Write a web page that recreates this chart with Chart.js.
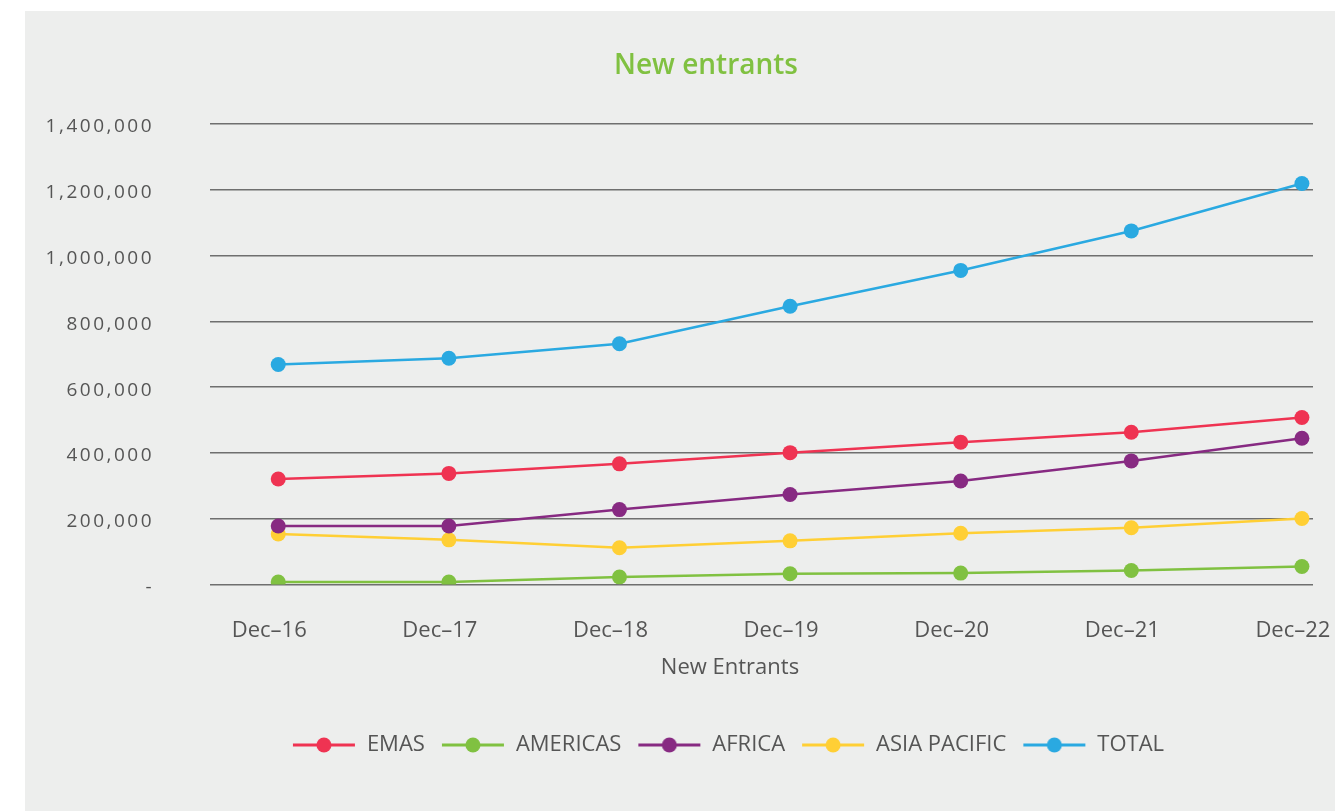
<!DOCTYPE html>
<html>
<head>
<meta charset="utf-8">
<script src="https://cdn.jsdelivr.net/npm/chart.js@4.4.1/dist/chart.umd.min.js"></script>
<style>
  html, body { margin: 0; padding: 0; background: #fff; }
  canvas { display: block; }
</style>
</head>
<body>
<canvas id="newEntrantsChart" width="1335" height="811"></canvas>
<script>
// data
const categories = ['Dec–16', 'Dec–17', 'Dec–18', 'Dec–19', 'Dec–20', 'Dec–21', 'Dec–22'];
const emas = [321000, 338000, 367000, 401000, 433000, 463000, 508000];
const americas = [8000, 8000, 23000, 33000, 35000, 43000, 55000];
const africa = [178000, 178000, 228000, 274000, 315000, 376000, 445000];
const asiaPacific = [154000, 136000, 112000, 133000, 156000, 173000, 201000];
const total = [669000, 688000, 732000, 846000, 955000, 1075000, 1219000];
const yTicks = [0, 200000, 400000, 600000, 800000, 1000000, 1200000, 1400000];

const textGrey = '#555555';

// legend marker: a short line with a dot in the middle
function legendIcon(color) {
    const c = document.createElement('canvas');
    c.width = 64;
    c.height = 18;
    const ctx = c.getContext('2d');
    ctx.strokeStyle = color;
    ctx.lineWidth = 3;
    ctx.beginPath();
    ctx.moveTo(1, 9);
    ctx.lineTo(63, 9);
    ctx.stroke();
    ctx.fillStyle = color;
    ctx.beginPath();
    ctx.arc(32, 9, 7.5, 0, Math.PI * 2);
    ctx.fill();
    return c;
}

function series(label, values, color) {
    return {
        label: label,
        data: values.map((v, i) => ({ x: i, y: v })),
        borderColor: color,
        backgroundColor: color,
        borderWidth: 2.5,
        pointRadius: 7.5,
        pointHoverRadius: 7.5,
        pointBorderWidth: 0,
        pointStyle: 'circle',
        tension: 0,
        icon: legendIcon(color)
    };
}

// grey panel behind the chart, plus a few nudges the options can't do
const panel = {
    id: 'panel',
    beforeDraw(chart) {
        const ctx = chart.ctx;
        ctx.save();
        ctx.fillStyle = '#ffffff';
        ctx.fillRect(0, 0, chart.width, chart.height);
        ctx.fillStyle = '#edeeed';
        ctx.fillRect(25, 11, chart.width - 25, chart.height - 11);
        ctx.restore();
    },
    afterLayout(chart) {
        // title / legend / axis caption are not centred on the canvas in the original
        chart.boxes.forEach((box) => {
            let dx = 0;
            if (box === chart.legend) dx = 59;
            else if (box === chart.titleBlock) dx = 37;
            else if (box.options && box.options.text === 'New Entrants') dx = 61;
            box.left += dx;
            box.right += dx;
        });
        // wider tracking on the y tick labels
        const y = chart.scales.y;
        if (!y._spaced) {
            const drawLabels = y.drawLabels.bind(y);
            y.drawLabels = function (area) {
                chart.ctx.save();
                chart.ctx.letterSpacing = '2.5px';
                drawLabels(area);
                chart.ctx.restore();
            };
            y._spaced = true;
        }
    }
};

const chartArea = document.getElementById('newEntrantsChart').getContext('2d');
const myChart = new Chart(chartArea, {
    type: 'line',
    data: {
        datasets: [
            series('EMAS', emas, '#ef3352'),
            series('AMERICAS', americas, '#80c141'),
            series('AFRICA', africa, '#872a82'),
            series('ASIA PACIFIC', asiaPacific, '#ffcf35'),
            series('TOTAL', total, '#2aa9e1')
        ]
    },
    options: {
        responsive: false,
        animation: false,
        devicePixelRatio: 1,
        layout: { padding: { left: 25, right: 22, top: 0, bottom: 45 } },
        plugins: {
            tooltip: { enabled: false },
            title: {
                display: true,
                text: 'New entrants',
                color: '#80c141',
                font: { family: 'Open Sans', size: 28, weight: '600' },
                padding: { top: 49, bottom: 41.4 }
            },
            subtitle: {
                display: true,
                position: 'bottom',
                weight: 500,
                text: 'New Entrants',
                color: textGrey,
                font: { family: 'Open Sans', size: 22 },
                padding: { top: 10, bottom: 37 }
            },
            legend: {
                position: 'bottom',
                weight: 1000,
                labels: {
                    usePointStyle: true,
                    pointStyleWidth: 64,
                    boxHeight: 18,
                    padding: 16,
                    color: textGrey,
                    font: { family: 'Open Sans', size: 22 },
                    generateLabels(chart) {
                        return chart.data.datasets.map((ds, i) => ({
                            text: ds.label,
                            pointStyle: ds.icon,
                            fillStyle: ds.borderColor,
                            strokeStyle: ds.borderColor,
                            lineWidth: 0,
                            fontColor: textGrey,
                            hidden: false,
                            datasetIndex: i
                        }));
                    }
                }
            }
        },
        scales: {
            x: {
                type: 'linear',
                min: -0.4,
                max: 6.065,
                grid: { display: false },
                border: { display: false },
                ticks: {
                    color: textGrey,
                    font: { family: 'Open Sans', size: 22 },
                    padding: 25,
                    labelOffset: -9,
                    callback: (v) => categories[v]
                },
                afterBuildTicks(axis) {
                    axis.ticks = categories.map((c, i) => ({ value: i }));
                },
                afterFit(axis) {
                    axis.paddingLeft = 0;
                    axis.paddingRight = 0;
                    axis.height = 60;
                }
            },
            y: {
                min: 0,
                max: 1400000,
                grid: { color: '#6f6f6f', lineWidth: 1.5, drawTicks: false },
                border: { display: false },
                ticks: {
                    color: textGrey,
                    font: { family: 'Open Sans', size: 19 },
                    padding: 56,
                    labelOffset: 3,
                    callback: (v) => v === 0 ? '-' : v.toLocaleString('en-US')
                },
                afterBuildTicks(axis) {
                    axis.ticks = yTicks.map((v) => ({ value: v }));
                },
                afterFit(axis) {
                    axis.width = 185;
                }
            }
        }
    },
    plugins: [panel]
});
</script>
</body>
</html>
